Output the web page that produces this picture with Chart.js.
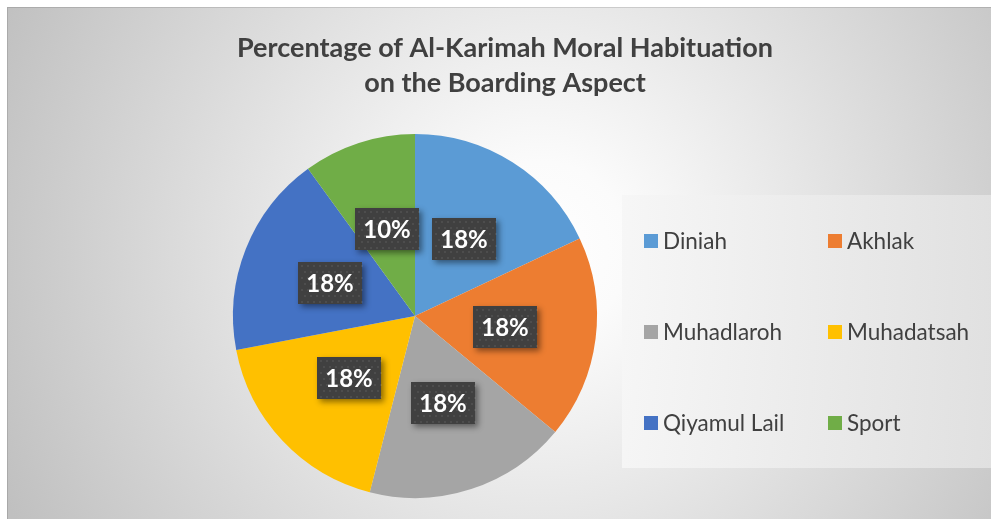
<!DOCTYPE html>
<html>
<head>
<meta charset="utf-8">
<script src="https://cdn.jsdelivr.net/npm/chart.js@4.4.1/dist/chart.umd.min.js"></script>
<style>
	html, body { margin: 0; padding: 0; background: #fff; }
	#wrap { width: 991px; height: 519px; }
</style>
</head>
<body>
<div id="wrap"><canvas id="chart" width="991" height="519"></canvas></div>
<script>
const titleLines = ['Percentage of Al-Karimah Moral Habituation', 'on the Boarding Aspect'];
const categories = ['Diniah', 'Akhlak', 'Muhadlaroh', 'Muhadatsah', 'Qiyamul Lail', 'Sport'];
const shares = [18, 18, 18, 18, 18, 10];
const sliceColors = ['#5B9BD5', '#ED7D31', '#A5A5A5', '#FFC000', '#4472C4', '#70AD47'];

const fontFace = 'Lato, "Open Sans", sans-serif';

const backdrop = {
	id: 'backdrop',
	beforeDraw(chart) {
		const { ctx, width, height } = chart;
		ctx.save();
		ctx.fillStyle = '#ffffff';
		ctx.fillRect(0, 0, width, height);
		const grad = ctx.createRadialGradient(540, 250, 0, 540, 250, 590);
		grad.addColorStop(0, '#ffffff');
		grad.addColorStop(0.15, '#fbfbfb');
		grad.addColorStop(1, '#c0c0c0');
		ctx.fillStyle = grad;
		ctx.fillRect(7, 7, width - 7, height - 7);
		ctx.strokeStyle = 'rgba(0, 0, 0, 0.12)';
		ctx.lineWidth = 1;
		ctx.beginPath();
		ctx.moveTo(7.5, height);
		ctx.lineTo(7.5, 7.5);
		ctx.lineTo(width, 7.5);
		ctx.stroke();

		// title
		ctx.fillStyle = '#404040';
		ctx.font = `bold 27px ${fontFace}`;
		ctx.textAlign = 'center';
		ctx.textBaseline = 'middle';
		ctx.fillText(titleLines[0], 505, 48);
		ctx.fillText(titleLines[1], 505, 83);

		// legend panel
		const lg = ctx.createLinearGradient(622, 0, 991, 0);
		lg.addColorStop(0, 'rgba(246, 246, 246, 0.92)');
		lg.addColorStop(1, 'rgba(226, 226, 226, 0.92)');
		ctx.fillStyle = lg;
		ctx.fillRect(622, 195, 369, 273);

		ctx.font = `22.5px ${fontFace}`;
		ctx.textAlign = 'left';
		const colX = [644, 828];
		const rowY = [241, 332, 423];
		categories.forEach((name, i) => {
			const x = colX[i % 2];
			const y = rowY[Math.floor(i / 2)];
			ctx.fillStyle = sliceColors[i];
			ctx.fillRect(x, y - 7, 14, 14);
			ctx.fillStyle = '#404040';
			ctx.fillText(name, x + 19, y + 1);
		});
		ctx.restore();
	},
};

const sliceLabels = {
	id: 'sliceLabels',
	afterDatasetsDraw(chart) {
		const { ctx } = chart;
		const meta = chart.getDatasetMeta(0);
		const values = chart.data.datasets[0].data;
		const total = values.reduce((a, b) => a + b, 0);
		meta.data.forEach((arc, i) => {
			const { x, y } = arc.getCenterPoint();
			const w = 64;
			const h = 42;
			const left = Math.round(x - w / 2);
			const top = Math.round(y - h / 2);
			ctx.save();
			ctx.shadowColor = 'rgba(0, 0, 0, 0.45)';
			ctx.shadowBlur = 6;
			ctx.shadowOffsetX = 3;
			ctx.shadowOffsetY = 3;
			ctx.fillStyle = '#404040';
			ctx.fillRect(left, top, w, h);
			ctx.restore();

			ctx.save();
			ctx.fillStyle = 'rgba(255, 255, 255, 0.07)';
			for (let py = top + 3; py < top + h; py += 6) {
				for (let px = left + 3 + ((py - top) % 12 === 3 ? 0 : 3); px < left + w; px += 6) {
					ctx.fillRect(px, py, 2, 2);
				}
			}
			ctx.fillStyle = '#ffffff';
			ctx.font = `bold 24px ${fontFace}`;
			ctx.textAlign = 'center';
			ctx.textBaseline = 'middle';
			ctx.fillText(`${Math.round((values[i] / total) * 100)}%`, left + w / 2, top + h / 2 + 1);
			ctx.restore();
		});
	},
};

new Chart(document.getElementById('chart'), {
	type: 'pie',
	data: {
		labels: categories,
		datasets: [{
			data: shares,
			backgroundColor: sliceColors,
			borderWidth: 0,
		}],
	},
	options: {
		responsive: false,
		animation: false,
		layout: {
			padding: { top: 134, bottom: 21, left: 233, right: 394 },
		},
		plugins: {
			legend: { display: false },
			title: { display: false },
			tooltip: { enabled: false },
		},
	},
	plugins: [backdrop, sliceLabels],
});
</script>
</body>
</html>
